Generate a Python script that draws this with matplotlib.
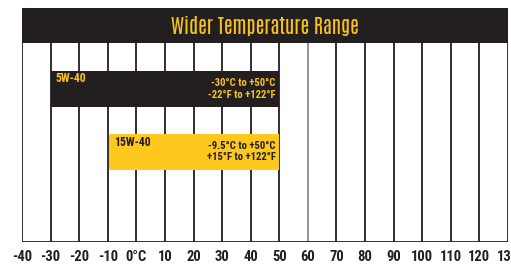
import matplotlib.pyplot as plt
from matplotlib import font_manager

# --- data ---
temps = [-40, -30, -20, -10, 0, 10, 20, 30, 40, 50, 60, 70, 80, 90, 100, 110, 120, 130]
tick_labels = ['-40', '-30', '-20', '-10', '0°C', '10', '20', '30', '40', '50',
               '60', '70', '80', '90', '100', '110', '120', '130']
oils = ['5W-40', '15W-40']
low_c = [-30, -9.5]
high_c = [50, 50]
range_c = ['-30°C to +50°C', '-9.5°C to +50°C']
range_f = ['-22°F to +122°F', '+15°F to +122°F']
title = 'Wider Temperature Range'

dark = '#231f20'
yellow = '#f8c21c'
bar_colors = [dark, '#fec81e']
text_colors = [yellow, dark]

names = {f.name for f in font_manager.fontManager.ttflist}


def pick(*cands):
    for c in cands:
        if c in names:
            return c
    return 'DejaVu Sans'


body_font = pick('Roboto Condensed', 'Archivo Narrow', 'Pragati Narrow', 'Liberation Sans Narrow')
title_font = pick('Antonio', 'Oswald', 'Roboto Condensed')
title_size = {'Antonio': 14.3, 'Oswald': 14.2}.get(title_font, 14)
plt.rcParams['font.family'] = [body_font, 'DejaVu Sans']

fig = plt.figure(figsize=(5.11, 2.68), dpi=100)
# axes spans header + grid area (pixel rows 8..242, cols 22..508)
ax = fig.add_axes([22 / 511, 1 - 242 / 268, 486 / 511, 234 / 268])
ax.set_xlim(-40, 130)
ax.set_ylim(242, 8)

# header band
ax.axhspan(8, 43, color=dark, lw=0)
ax.text(45, 25.5, title, color=yellow, fontsize=title_size, fontweight='bold',
        family=title_font, ha='center', va='center_baseline')

# grid lines
for t in temps:
    c = '#8a8a8a' if t == 60 else dark
    ax.vlines(t, 43, 242, color=c, lw=1.3, zorder=1)
ax.hlines(242, -40, 130, color=dark, lw=2, zorder=3)

# range bars
tops = [71, 134]
heights = [35.5, 36]
for i, oil in enumerate(oils):
    ax.barh(tops[i] + heights[i] / 2, high_c[i] - low_c[i], left=low_c[i],
            height=heights[i], color=bar_colors[i], zorder=2)
    ax.text(low_c[i] + 1.6, tops[i] + 8, oil, color=text_colors[i], fontsize=8.5,
            fontweight='bold', ha='left', va='center', zorder=3)
    ax.text(high_c[i] - 1.2, tops[i] + 12, range_c[i], color=text_colors[i], fontsize=7.7,
            fontweight='bold', ha='right', va='center', zorder=3)
    ax.text(high_c[i] - 1.2, tops[i] + 23.5, range_f[i], color=text_colors[i], fontsize=7.7,
            fontweight='bold', ha='right', va='center', zorder=3)

ax.set_xticks(temps)
ax.set_xticklabels(tick_labels, fontsize=10.5, fontweight='bold', color=dark)
ax.tick_params(axis='x', length=0, pad=6)
ax.set_yticks([])
for s in ax.spines.values():
    s.set_visible(False)

fig.savefig('out.png', dpi=100)
